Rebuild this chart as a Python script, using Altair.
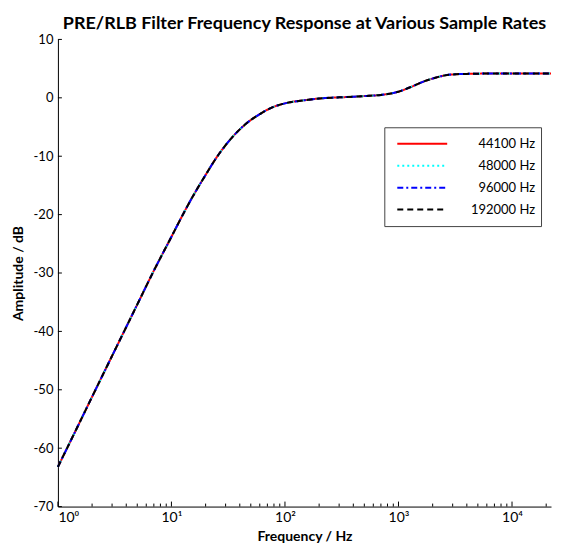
import altair as alt
import pandas as pd

freqs = [1, 1.5, 2, 3, 5, 7, 10, 12, 15, 20, 25, 30, 40, 50, 60, 75, 100, 150,
         200, 300, 400, 500, 700, 1000, 1300, 1700, 2000, 2500, 3000, 4000,
         6000, 10000, 15000, 22050]

# Amplitude (dB) per sample rate
resp_44100 = [-63.2, -56.2, -51.2, -44.2, -35.4, -29.6, -23.8, -20.8, -17.3, -13.2,
              -10.2, -8.1, -5.4, -3.8, -2.8, -1.75, -0.95, -0.4, -0.12, 0.08, 0.18,
              0.3, 0.5, 1.05, 1.9, 2.85, 3.3, 3.8, 4.0, 4.1, 4.15, 4.15, 4.15, 4.15]
resp_48000 = [-63.2, -56.2, -51.2, -44.2, -35.4, -29.6, -23.8, -20.8, -17.3, -13.2,
              -10.2, -8.1, -5.4, -3.8, -2.8, -1.75, -0.95, -0.4, -0.12, 0.08, 0.18,
              0.3, 0.5, 1.05, 1.9, 2.85, 3.3, 3.8, 4.0, 4.1, 4.15, 4.15, 4.15, 4.15]
resp_96000 = [-63.2, -56.2, -51.2, -44.2, -35.4, -29.6, -23.8, -20.8, -17.3, -13.2,
              -10.2, -8.1, -5.4, -3.8, -2.8, -1.75, -0.95, -0.4, -0.12, 0.08, 0.18,
              0.3, 0.5, 1.05, 1.9, 2.85, 3.3, 3.8, 4.0, 4.1, 4.15, 4.15, 4.15, 4.15]
resp_192000 = [-63.2, -56.2, -51.2, -44.2, -35.4, -29.6, -23.8, -20.8, -17.3, -13.2,
               -10.2, -8.1, -5.4, -3.8, -2.8, -1.75, -0.95, -0.4, -0.12, 0.08, 0.18,
               0.3, 0.5, 1.05, 1.9, 2.85, 3.3, 3.8, 4.0, 4.1, 4.15, 4.15, 4.15, 4.15]

rates = ["44100 Hz", "48000 Hz", "96000 Hz", "192000 Hz"]
colors = ["#ff0000", "#00ffff", "#0000ff", "#000000"]
dashes = [[1, 0], [2, 3], [6, 3, 2, 3], [6, 4]]

x_major = [1, 10, 100, 1000, 10000]
x_minor = [m * 10 ** k for k in range(0, 5) for m in range(2, 10) if m * 10 ** k <= 22050]
y_ticks = [-70, -60, -50, -40, -30, -20, -10, 0, 10]

rows = []
for rate, resp in zip(rates, [resp_44100, resp_48000, resp_96000, resp_192000]):
    for f, v in zip(freqs, resp):
        rows.append({"freq": f, "db": v, "rate": rate})
df = pd.DataFrame(rows)

W, H = 494, 468
FONT = "Lato"

x_scale = alt.Scale(type="log", domain=[1, 22050], nice=False)
y_scale = alt.Scale(domain=[-70, 10], nice=False)

x_axis = alt.Axis(
    title="Frequency / Hz", values=x_major, ticks=False, tickSize=0, grid=False,
    labelExpr="'10' + (datum.value == 1 ? '⁰' : datum.value == 10 ? '¹' : datum.value == 100 ? '²' : datum.value == 1000 ? '³' : '⁴')",
    labelPadding=4, labelFontSize=14, titlePadding=5,
)
y_axis = alt.Axis(
    title="Amplitude / dB", values=y_ticks, ticks=False, tickSize=0, grid=False,
    labelExpr="'' + datum.value",
    labelPadding=5, labelFontSize=13, titlePadding=8,
)

lines = alt.Chart(df).mark_line(strokeWidth=2, interpolate="monotone").encode(
    x=alt.X("freq:Q", scale=x_scale, axis=x_axis),
    y=alt.Y("db:Q", scale=y_scale, axis=y_axis),
    color=alt.Color("rate:N", scale=alt.Scale(domain=rates, range=colors), title=None,
                    legend=alt.Legend(orient="none", legendX=327, legendY=88,
                                      symbolType="stroke", symbolSize=2500,
                                      symbolStrokeWidth=2, clipHeight=21, rowPadding=1,
                                      symbolOffset=6, labelOffset=87, labelAlign="right",
                                      labelFont=FONT, labelFontSize=13, labelColor="#000",
                                      padding=6, strokeColor="#444", fillColor="white",
                                      cornerRadius=0)),
    strokeDash=alt.StrokeDash("rate:N", scale=alt.Scale(domain=rates, range=dashes), title=None),
    order=alt.Order("freq:Q"),
)

xmaj = alt.Chart(pd.DataFrame({"freq": x_major})).mark_rule(color="black", strokeWidth=1).encode(
    x=alt.X("freq:Q", scale=x_scale, axis=x_axis), y=alt.value(H), y2=alt.value(H - 5))
xmin = alt.Chart(pd.DataFrame({"freq": x_minor})).mark_rule(color="black", strokeWidth=1).encode(
    x=alt.X("freq:Q", scale=x_scale, axis=x_axis), y=alt.value(H), y2=alt.value(H - 3))
ytk = alt.Chart(pd.DataFrame({"db": y_ticks})).mark_rule(color="black", strokeWidth=1).encode(
    y=alt.Y("db:Q", scale=y_scale, axis=y_axis), x=alt.value(0), x2=alt.value(4))

chart = alt.layer(xmaj, xmin, ytk, lines).properties(
    width=W, height=H,
    padding={"left": 3, "top": 7, "right": 0, "bottom": 0},
    title=alt.TitleParams("PRE/RLB Filter Frequency Response at Various Sample Rates",
                          font=FONT, fontSize=18, fontWeight="bold", color="#000",
                          anchor="middle", frame="group", offset=0),
).configure_view(stroke=None).configure_axis(
    labelFont=FONT, titleFont=FONT, titleFontSize=14, titleFontWeight="bold",
    labelColor="#000", titleColor="#000", domainColor="#000", domainWidth=1,
)

chart.save("out.html", embed_options={"renderer": "svg", "actions": False})
